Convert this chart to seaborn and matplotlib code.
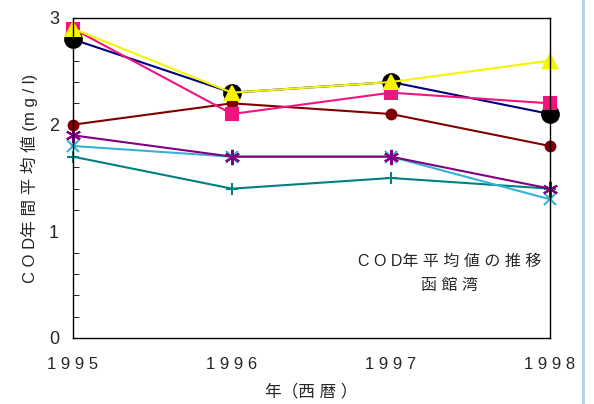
import matplotlib
matplotlib.use("Agg")
import matplotlib.pyplot as plt
import seaborn as sns
import pandas as pd
from matplotlib.lines import Line2D
from matplotlib.ticker import MultipleLocator

sns.set_style("white")
plt.rcParams['font.family'] = ['Liberation Sans', 'Noto Sans CJK JP', 'DejaVu Sans']

years = [1995, 1996, 1997, 1998]
tick_labels = ["1 9 9 5", "1 9 9 6", "1 9 9 7", "1 9 9 8"]
s_navy = [2.8, 2.3, 2.4, 2.1]
s_yellow = [2.9, 2.3, 2.4, 2.6]
s_pink = [2.9, 2.1, 2.3, 2.2]
s_darkred = [2.0, 2.2, 2.1, 1.8]
s_purple = [1.9, 1.7, 1.7, 1.4]
s_cyan = [1.8, 1.7, 1.7, 1.3]
s_teal = [1.7, 1.4, 1.5, 1.4]

series = [
    (s_teal, '#008080', '+', 9, None),
    (s_cyan, '#33B2D6', 'x', 8, None),
    (s_purple, '#800080', (6, 2, 0), 11, None),
    (s_navy, '#000080', 'o', 12, 'black'),
    (s_darkred, '#800000', 'o', 7, None),
    (s_pink, '#F0147F', 's', 8, None),
    (s_yellow, '#F5F500', '^', 10, None),
]

fig = plt.figure(figsize=(5.94, 4.04), dpi=100)
ax = fig.add_axes([73/594, 1-338/404, (550-73)/594, (338-18)/404])

for vals, col, mk, ms, mfc in series:
    df = pd.DataFrame({"year": years, "value": vals})
    sns.lineplot(data=df, x="year", y="value", ax=ax, color=col, linewidth=1.5,
                 marker=mk, markersize=ms,
                 markerfacecolor=(mfc if mfc else col),
                 markeredgecolor=(mfc if mfc else col),
                 markeredgewidth=1.5, clip_on=False)

ax.set_xlim(1995, 1998)
ax.set_ylim(0, 3)
ax.set_xticks(years)
ax.set_xticklabels(tick_labels, fontsize=12)
ax.set_yticks([0, 1, 2, 3])
ax.set_yticklabels(["0", "1", "2", "3"], fontsize=13)
ax.yaxis.set_minor_locator(MultipleLocator(0.2))
ax.tick_params(axis='x', direction='in', length=6, pad=14, color='black')
ax.tick_params(axis='y', which='major', direction='in', length=6, pad=10, color='black')
ax.tick_params(axis='y', which='minor', direction='in', length=4, left=True, color='black')
for sp in ax.spines.values():
    sp.set_color('black')
    sp.set_linewidth(1.0)

ax.set_xlabel("年（西 暦 ）", fontsize=12, labelpad=8)
ax.set_ylabel("C O D年 間 平 均 値 (m g / l)", fontsize=12, labelpad=8)

ax.text(0.79, 0.24, "C O D年 平 均 値 の 推 移", transform=ax.transAxes,
        ha='center', va='center', fontsize=11.5)
ax.text(0.79, 0.165, "函 館 湾", transform=ax.transAxes,
        ha='center', va='center', fontsize=11.5)

fig.add_artist(Line2D([583/594, 583/594], [0, 1], transform=fig.transFigure,
                      color='#A8D4EE', linewidth=2))

fig.savefig("out.png", dpi=100)
